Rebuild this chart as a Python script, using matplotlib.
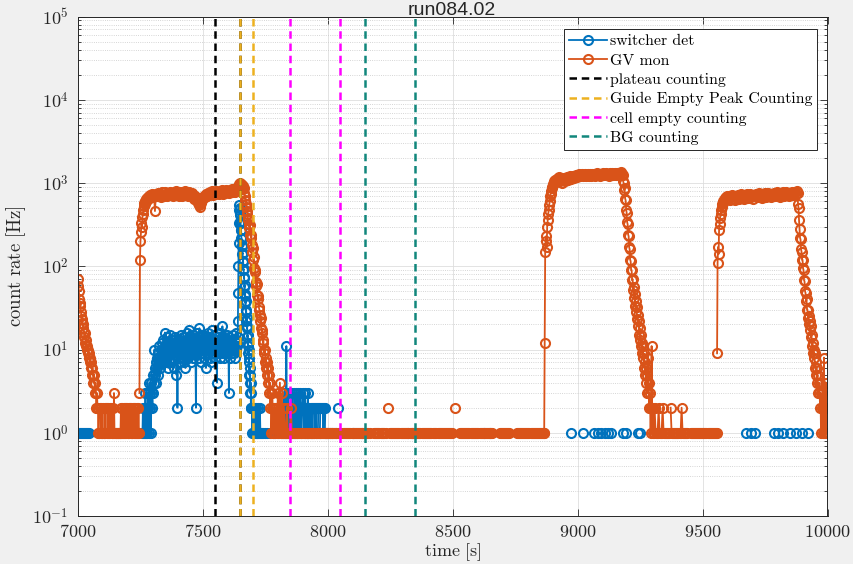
import numpy as np
import matplotlib.pyplot as plt
from matplotlib.ticker import LogLocator, NullFormatter, NullLocator

plt.rcParams['mathtext.fontset'] = 'cm'

# ---------------------------------------------------------------
# data: count rate [Hz] read off the plot, sampled blocks
# each block = (start time [s], sample step [s], values), 0 = no counts
# ---------------------------------------------------------------
def digits(s):
    return [int(c) for c in s]

# GV monitor
gv_decay0 = (7000, 2, [70, 58, 50, 40, 33, 36, 28, 25, 21, 23, 18, 20, 16, 14, 16, 12, 11, 13, 10, 11,
                       9, 10, 8, 9, 7, 8, 6, 7, 5, 6, 5, 4, 5, 4, 3, 4, 3, 2, 3, 2])
gv_noise0 = (7080, 2, digits("1211021211" "2011210221" "1210120211" "213" "1101110110111"
                             "2112102121" "1202112102" "1211202112" "1021121"))
gv_rise1 = (7246, 2, [3, 120, 200, 260, 330, 300, 390, 420, 480, 530, 570, 600, 560, 640, 610,
                      660, 620, 680, 650, 700, 660, 720, 690])
gv_plat1 = (7292, 4, [700, 740, 680, 720, 460, 730, 690, 760, 700, 740,
                      680, 770, 720, 690, 780, 730, 700, 760, 720, 790,
                      710, 750, 690, 770, 730, 800, 720, 760, 700, 780,
                      740, 690, 770, 730, 800, 720, 760, 700, 780, 740,
                      690, 760, 720, 650, 700, 620, 660, 580, 540, 520,
                      580, 620, 660, 700, 680, 740, 700, 760, 720, 780,
                      740, 800, 720, 770, 730, 810, 750, 790, 730, 800,
                      760, 820, 740, 790, 750, 830, 770, 800, 750, 820,
                      780, 840, 790, 830, 780, 860, 820, 900, 950])
gv_decay1 = (7646, 2, [960, 1000, 940, 980, 900, 950, 880, 920, 840, 860,
                       760, 700, 620, 560, 520, 460, 430, 380, 360, 320,
                       290, 310, 240, 220, 240, 180, 150, 165, 120, 130,
                       95, 85, 90, 65, 58, 62, 45, 40, 44, 32,
                       30, 26, 22, 24, 18, 16, 17, 12, 13, 10,
                       9, 10, 7, 8, 6, 7, 5, 6, 4, 5,
                       3, 4, 2, 3, 1, 2, 3, 1, 2, 1,
                       2, 1, 2])
gv_noise1 = (7792, 4, digits("2131413121" "1211121011" "1110111101" "1111011110" "1101111011"
                             "1110111101" "1011110111" "1111101111" "0111111011" "1110100011"
                             "1111011110" "1020111111" "1111011111" "1110111111" "1111101111"
                             "1111110111" "1011111111" "1111111002" "0000111111" "1111011111"
                             "1110111111" "1111111000" "0000111111" "1111000000" "0111111111"
                             "1111011111" "111111111"))
gv_rise2 = (8866, 2, [1, 12, 150, 200, 230, 170, 300, 360, 420, 470, 540, 600, 690, 740, 800, 860,
                      900, 950, 980, 1000, 1050, 1020, 1080, 1100, 1060, 1130, 1100, 1160, 1120,
                      1180, 1150, 1100])
gv_plat2 = (8930, 4, [1050, 1120, 1000, 1100, 1150, 1060, 1130, 1180, 1100, 1160,
                      1200, 1130, 1190, 1230, 1160, 1210, 1250, 1180, 1230, 1270,
                      1200, 1240, 1280, 1210, 1250, 1290, 1220, 1260, 1300, 1230,
                      1270, 1200, 1280, 1240, 1300, 1230, 1270, 1310, 1240, 1280,
                      1220, 1300, 1250, 1310, 1240, 1290, 1320, 1250, 1300, 1230,
                      1310, 1270, 1320, 1250, 1300, 1330, 1260, 1310, 1280, 1330,
                      1300, 1350, 1280])
gv_decay2 = (9180, 2, [1250, 1050, 1000, 820, 860, 650, 620, 480, 440, 340,
                       320, 240, 230, 170, 160, 120, 115, 90, 90, 68,
                       70, 52, 56, 42, 46, 33, 38, 28, 32, 23,
                       26, 19, 22, 15, 18, 13, 15, 11, 12, 9,
                       11, 8, 9, 6, 7, 5, 6, 4, 5, 3,
                       8, 3, 4, 2, 3, 2, 1, 2, 11, 2,
                       1, 2])
gv_noise2 = (9304, 4, digits("1211121112" "1111110211" "1111101121" "1111000111" "1111111111"
                             "1110111111" "1111"))
gv_rise3 = (9558, 2, [9, 110, 170, 140, 270, 320, 380, 430, 480, 520, 560, 600, 580, 630, 610,
                      660, 640, 680, 660, 700, 680])
gv_plat3 = (9600, 4, [640, 690, 620, 670, 710, 650, 690, 630, 700, 660,
                      720, 650, 690, 730, 660, 700, 640, 710, 680, 730,
                      660, 700, 740, 670, 710, 650, 720, 690, 740, 670,
                      710, 750, 680, 720, 660, 730, 700, 750, 680, 720,
                      760, 690, 730, 670, 740, 710, 760, 690, 730, 770,
                      700, 740, 680, 750, 720, 770, 700, 740, 780, 710,
                      750, 690, 760, 730, 780, 710, 750, 790, 740, 800])
gv_decay3 = (9880, 2, [760, 560, 500, 360, 280, 220, 210, 160, 150, 120,
                       120, 95, 90, 68, 66, 50, 48, 38, 40, 30,
                       30, 24, 25, 20, 22, 17, 19, 14, 15, 11,
                       12, 9, 10, 8, 9, 6, 7, 5, 6, 4,
                       5, 3, 4, 3, 4, 2, 3, 1, 2, 3,
                       1, 2, 1, 8, 1, 2, 1, 4, 1, 2,
                       1])

# switcher detector
sw_base0 = (7004, 4, digits("11111111111"))
sw_hump = (7258, 2, [1, 2, 1, 1, 2, 1, 3, 1, 2, 2,
                     1, 3, 2, 1, 4, 2, 3, 1, 4, 3,
                     2, 5, 3, 4, 10, 5, 6, 7, 4, 8,
                     6, 9, 5, 8, 11, 7, 6, 10, 8, 12,
                     7, 9, 13, 8, 10, 16, 9, 7, 11, 14,
                     8, 10, 6, 12, 9, 15, 11, 7, 10, 13,
                     9, 12, 8, 6, 11, 14, 10, 12, 5, 9,
                     2, 8, 11, 13, 9, 7, 12, 10, 15, 8,
                     11, 9, 14, 7, 10, 12, 6, 13, 9, 11,
                     16, 10, 8, 12, 17, 9, 11, 7, 14, 10,
                     12, 8, 15, 11, 9, 13, 10, 2, 12, 16,
                     9, 11, 14, 8, 18, 10, 12, 7, 13, 11,
                     9, 15, 10, 12, 8, 14, 11, 6, 13, 10,
                     12, 16, 9, 11, 14, 8, 10, 13, 7, 12,
                     17, 10, 9, 12, 15, 11, 8, 13, 10, 4,
                     11, 14, 9, 12, 10, 16, 8, 11, 13, 9,
                     19, 10, 12, 8, 14, 11, 9, 13, 10, 15,
                     9, 12, 11, 3, 14, 10, 8, 13, 11, 9,
                     12, 10, 15, 9, 11, 13, 8, 16, 10, 12,
                     11])
sw_spike = (7639, 1, [14, 22, 48, 100, 190, 330, 470, 540, 500, 440,
                      410, 340, 330, 270, 270, 220, 215, 175, 175, 140,
                      145, 112, 115, 90, 92, 72, 74, 56, 60, 44,
                      46, 36, 38, 28, 30, 22, 24, 18, 19, 14,
                      15, 11, 12, 9, 10, 7, 8, 5, 6, 4,
                      5, 3, 4, 2, 3, 2])
sw_tail = (7696, 2, [1, 2, 1, 2, 2, 1, 2, 1, 1, 2,
                     1, 1, 2, 1, 0, 1, 2, 1, 0, 1,
                     1, 0, 0, 1, 0, 0, 0, 1, 0, 0,
                     0, 1, 0, 0, 0, 0, 1, 0, 0, 0,
                     0, 0, 1, 0, 0, 0, 0, 1, 0, 0,
                     0, 0, 0, 1, 0, 0, 0, 0, 1, 0,
                     0, 1, 2, 1, 3, 1, 2, 1, 1, 11,
                     1, 2, 1, 3, 1, 2, 1, 1, 2, 1,
                     3, 1, 2, 1, 1, 3, 2, 1, 3, 2,
                     1, 2, 3, 2, 2, 1, 2, 3, 2, 1,
                     2, 2, 3, 2, 1, 2, 3, 1, 2, 2,
                     1, 2, 3, 1, 2, 2, 1, 0, 1, 2,
                     2, 1, 0, 2, 2, 1, 0, 2, 1, 2,
                     2, 0, 1, 2, 2, 0, 1, 2, 0, 2,
                     2, 0, 2, 1, 2, 0, 1, 2, 0, 1,
                     0, 1, 0, 0, 1, 0, 0, 1, 0, 0,
                     1, 0, 0, 0, 1, 0, 0, 0, 1, 0,
                     0, 0, 2, 0, 0])
sw_single = [8100, 8112, 8136, 8144, 8320, 8336, 8624, 8648, 8975, 9022, 9066, 9082, 9095,
             9109, 9122, 9135, 9182, 9193, 9242, 9249, 9672, 9692, 9709, 9785, 9803, 9820,
             9850, 9873, 9896, 9923]

# counting windows [s]
win_labels = ['plateau counting', 'Guide Empty Peak Counting', 'cell empty counting', 'BG counting']
win_times = [(7550, 7650), (7650, 7700), (7850, 8050), (8150, 8350)]
win_colors = ['#000000', '#EDB120', '#FF00FF', '#11877C']

x_ticks = [7000, 7500, 8000, 8500, 9000, 9500, 10000]
y_exps = [-1, 0, 1, 2, 3, 4, 5]


def build(blocks):
    ts, vs = [], []
    for t0, dt, vals in blocks:
        v = np.asarray(vals, dtype=float)
        ts += [t0 + dt * np.arange(len(v)), [np.nan]]
        vs += [v, [np.nan]]
    t = np.concatenate(ts)
    v = np.concatenate(vs)
    v[v <= 0] = np.nan  # zero counts are not drawn on the log axis
    return t, v


gv_t, gv_v = build([gv_decay0, gv_noise0, gv_rise1, gv_plat1, gv_decay1, gv_noise1,
                    gv_rise2, gv_plat2, gv_decay2, gv_noise2, gv_rise3, gv_plat3, gv_decay3])
sw_t, sw_v = build([sw_base0, sw_hump, sw_spike, sw_tail] + [(t, 1, [1]) for t in sw_single])

fig = plt.figure(figsize=(8.54, 5.64), dpi=100, facecolor='#f0f0f0')
ax = fig.add_axes([78 / 854, 1 - 516 / 564, 749.5 / 854, 499.5 / 564])
ax.set_facecolor('white')

ax.plot(sw_t, sw_v, '-o', color='#0072BD', lw=1.3, ms=6.5, mfc='none', mew=1.5,
        label='switcher det')
ax.plot(gv_t, gv_v, '-o', color='#D95319', lw=1.3, ms=6.5, mfc='none', mew=1.5,
        label='GV mon')

for lab, times, col in zip(win_labels, win_times, win_colors):
    for i, t in enumerate(times):
        ax.axvline(t, color=col, lw=1.8, ls=(0, (3.0, 1.9)),
                   label=lab if i == 0 else '_nolegend_')

ax.set_yscale('log')
ax.set_xlim(7000, 10000)
ax.set_ylim(1e-1, 1e5)
ax.set_xticks(x_ticks)
ax.set_xticklabels([f'${t}$' for t in x_ticks])
ax.set_yticks([10.0 ** k for k in y_exps])
ax.set_yticklabels([f'$10^{{{k}}}$' for k in y_exps])
ax.yaxis.set_minor_locator(LogLocator(base=10, subs=range(2, 10), numticks=20))
ax.yaxis.set_minor_formatter(NullFormatter())
ax.xaxis.set_minor_locator(NullLocator())

ax.grid(True, which='major', color='#dedede', lw=0.6)
ax.grid(True, which='minor', axis='y', color='#c8c8c8', ls=':', lw=0.6)
ax.set_axisbelow(True)

ax.tick_params(which='both', direction='in', top=True, right=True, colors='#262626',
               labelsize=13, width=0.6)
ax.tick_params(which='major', length=5)
ax.tick_params(axis='y', which='major', pad=7)
ax.tick_params(axis='x', which='major', pad=5)
ax.tick_params(which='minor', length=2.5)
for s in ax.spines.values():
    s.set_color('#262626')
    s.set_linewidth(0.7)

ax.set_xlabel(r'$\mathrm{time\ [s]}$', fontsize=13, color='#262626', labelpad=0)
ax.set_ylabel(r'$\mathrm{count\ rate\ [Hz]}$', fontsize=13.5, color='#262626', labelpad=3)

fig.text(452 / 854, 1 - 15 / 564, 'run084.02', ha='center', va='baseline',
         fontsize=14, family='Liberation Sans', color='#262626')

leg = ax.legend(loc='upper right', bbox_to_anchor=(0.986, 0.974), borderaxespad=0,
                prop={'family': 'cmr10', 'size': 11.4}, numpoints=1, handlelength=2.4,
                handletextpad=0.2, labelspacing=0.33, borderpad=0.3, fancybox=False,
                framealpha=1)
leg.get_frame().set_edgecolor('#262626')
leg.get_frame().set_linewidth(0.7)

fig.savefig('out.png', dpi=100, facecolor=fig.get_facecolor())
